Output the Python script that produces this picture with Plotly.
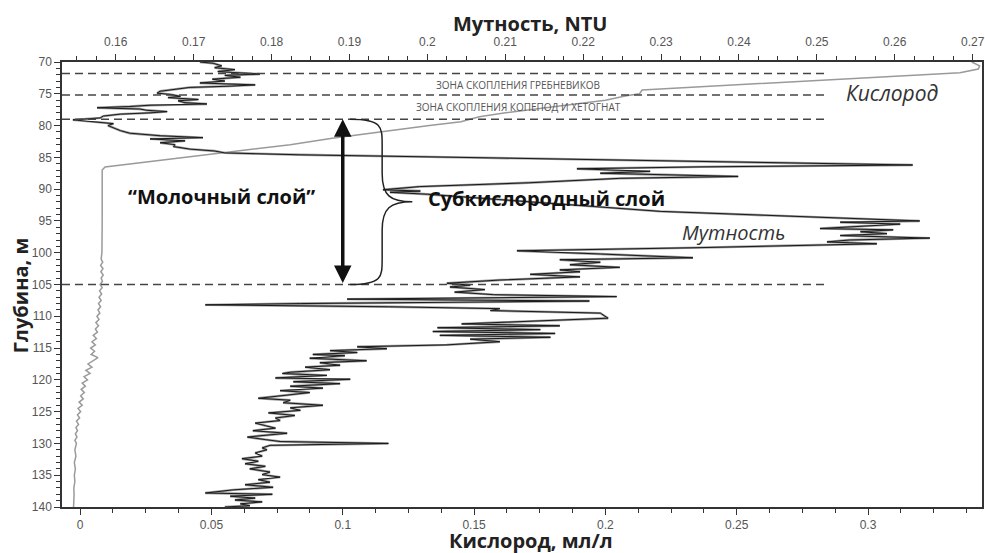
import plotly.graph_objects as go

# ---------------- data ----------------
# Turbidity profile (top axis, NTU) vs depth (m)
turb_depth = [70.0, 70.2, 70.6, 70.9, 71.2, 71.5, 71.9, 72.1, 72.4, 72.7, 73.0, 73.3, 73.6, 73.8,
              74.0, 74.3, 74.6, 74.9, 75.1, 75.4, 75.6, 75.9, 76.1, 76.4, 76.6, 76.8, 77.0, 77.2,
              77.4, 77.6, 77.8, 78.0, 78.2, 78.5, 78.8, 79.1, 79.4, 79.7, 80.0, 80.4, 80.8, 81.2,
              81.6, 81.9, 82.1, 82.4, 82.7, 83.0, 83.3, 83.7, 84.0, 84.3, 84.6, 85.0, 85.5, 86.2,
              86.5, 86.8, 87.2, 87.5, 88.0, 88.3, 89.0, 89.6, 90.1, 90.3, 90.5, 90.8, 92.0, 93.5,
              95.0, 95.2, 95.5, 95.9, 96.2, 96.4, 96.7, 97.0, 97.3, 97.7, 98.0, 98.3, 98.6, 99.2,
              99.7, 100.2, 100.8, 101.1, 101.5, 101.9, 102.3, 102.7, 103.0, 103.4, 103.8, 104.3,
              104.8, 105.1, 105.4, 105.8, 106.2, 106.6, 106.9, 107.3, 107.6, 108.0, 108.2, 108.5,
              108.8, 109.1, 109.5, 110.3, 110.8, 111.2, 111.5, 111.8, 112.1, 112.4, 112.7, 113.0,
              113.3, 113.6, 114.0, 114.5, 114.8, 115.1, 115.4, 115.7, 116.0, 116.2, 116.6, 117.0,
              117.3, 117.7, 118.0, 118.4, 118.8, 119.0, 119.3, 119.7, 119.9, 120.3, 120.6, 121.0,
              121.3, 121.7, 122.0, 122.4, 122.9, 123.2, 123.6, 124.0, 124.4, 124.8, 125.2, 125.6,
              126.0, 126.4, 126.8, 127.2, 127.6, 128.0, 128.4, 128.8, 129.0, 129.4, 129.7, 130.0,
              130.3, 130.7, 131.0, 131.5, 132.0, 132.4, 132.8, 133.2, 133.6, 134.0, 134.5, 134.9,
              135.3, 135.7, 136.1, 136.5, 136.9, 137.3, 137.8, 138.0, 138.3, 138.6, 138.9, 139.2,
              139.5, 139.8, 140.0]
turbidity = [0.1708, 0.1725, 0.1736, 0.1727, 0.1753, 0.1731, 0.1785, 0.1740, 0.1760, 0.1724, 0.1740, 0.1708, 0.1779, 0.1747,
             0.1695, 0.1676, 0.1657, 0.1653, 0.1670, 0.1683, 0.1667, 0.1706, 0.1680, 0.1689, 0.1717, 0.1644, 0.1618, 0.1576,
             0.1631, 0.1640, 0.1666, 0.1644, 0.1606, 0.1584, 0.1580, 0.1545, 0.1571, 0.1597, 0.1590, 0.1599, 0.1606, 0.1618,
             0.1657, 0.1712, 0.1644, 0.1689, 0.1657, 0.1676, 0.1674, 0.1695, 0.1727, 0.1740, 0.1836, 0.2042, 0.2299, 0.2623,
             0.2350, 0.2192, 0.2286, 0.2222, 0.2399, 0.2247, 0.2130, 0.1990, 0.1943, 0.1991, 0.1952, 0.2000, 0.2132, 0.2299,
             0.2632, 0.2530, 0.2607, 0.2547, 0.2504, 0.2598, 0.2556, 0.2590, 0.2530, 0.2645, 0.2542, 0.2513, 0.2577, 0.2350,
             0.2115, 0.2222, 0.2341, 0.2170, 0.2222, 0.2183, 0.2247, 0.2170, 0.2196, 0.2132, 0.2196, 0.2093,
             0.2025, 0.2055, 0.2029, 0.2074, 0.2035, 0.2085, 0.2243, 0.1897, 0.2208, 0.1837, 0.1715, 0.1950,
             0.2093, 0.2081, 0.2222, 0.2232, 0.2132, 0.2044, 0.2170, 0.2013, 0.2145, 0.2007, 0.2164, 0.2016,
             0.2158, 0.2055, 0.2093, 0.2025, 0.1910, 0.1948, 0.1875, 0.1910, 0.1853, 0.1894, 0.1849, 0.1922,
             0.1862, 0.1888, 0.1843, 0.1875, 0.1824, 0.1814, 0.1871, 0.1805, 0.1901, 0.1828, 0.1888, 0.1824,
             0.1866, 0.1811, 0.1849, 0.1817, 0.1783, 0.1824, 0.1815, 0.1866, 0.1824, 0.1837, 0.1796, 0.1830,
             0.1805, 0.1811, 0.1779, 0.1792, 0.1805, 0.1776, 0.1820, 0.1785, 0.1769, 0.1792, 0.1811, 0.1950,
             0.1798, 0.1788, 0.1794, 0.1779, 0.1788, 0.1762, 0.1783, 0.1766, 0.1792, 0.1772, 0.1798, 0.1788,
             0.1811, 0.1783, 0.1798, 0.1766, 0.1802, 0.1751, 0.1715, 0.1801, 0.1747, 0.1779, 0.1753, 0.1788,
             0.1760, 0.1772, 0.1740]

# Oxygen profile (bottom axis, ml/l) vs depth (m)
oxy_depth = [70.0, 70.6, 71.1, 71.7, 72.0, 72.5, 73.0, 73.5, 74.0, 74.4, 75.0, 75.3, 76.0, 76.5,
             77.0, 77.5, 78.0, 78.6, 79.4, 80.0, 81.0, 82.0, 83.0, 84.0, 85.0, 86.0, 86.5, 87.0,
             90.0, 95.0, 100.0, 100.5, 101.0, 101.5, 102.0, 102.5, 103.0, 103.5, 104.0, 104.5,
             105.0, 105.5, 106.0, 106.5, 107.0, 107.5, 108.0, 108.5, 109.0, 109.5, 110.0, 110.5,
             111.0, 111.5, 112.0, 112.5, 113.0, 113.5, 114.0, 114.5, 115.0, 115.5, 116.0, 116.5,
             117.0, 117.5, 118.0, 118.5, 119.0, 119.5, 120.0, 120.5, 121.0, 121.5, 122.0, 122.5,
             123.0, 123.5, 124.0, 124.5, 125.0, 125.5, 126.0, 126.5, 127.0, 127.5, 128.0, 128.5,
             129.0, 129.5, 130.0, 131.0, 132.0, 133.0, 134.0, 135.0, 136.0, 137.0, 138.0, 139.0, 140.0]
oxygen = [0.3395, 0.3425, 0.3420, 0.335, 0.321, 0.299, 0.277, 0.254, 0.232, 0.214, 0.213, 0.208, 0.200, 0.190,
          0.180, 0.170, 0.162, 0.152, 0.145, 0.133, 0.114, 0.096, 0.080, 0.060, 0.040, 0.020, 0.0095, 0.0084,
          0.0083, 0.0084, 0.0083, 0.0082, 0.0080, 0.0086, 0.0078, 0.0087, 0.0079, 0.0088, 0.0080, 0.0085,
          0.0076, 0.0084, 0.0074, 0.0082, 0.0072, 0.0080, 0.0070, 0.0078, 0.0068, 0.0075, 0.0064, 0.0072,
          0.0060, 0.0070, 0.0058, 0.0066, 0.0050, 0.0062, 0.0045, 0.0058, 0.0040, 0.0055, 0.0042, 0.0068,
          0.0048, 0.0030, 0.0045, 0.0022, 0.0038, 0.0015, 0.0028, 0.0008, 0.0020, 0.0004, 0.0016, 0.0002,
          0.0012, -0.0004, 0.0008, -0.0008, 0.0002, -0.0010, -0.0002, -0.0014, -0.0006, -0.0016, -0.0010, -0.0018,
          -0.0012, -0.0020, -0.0014, -0.0020, -0.0016, -0.0022, -0.0018, -0.0022, -0.0020, -0.0024, -0.0023, -0.0025, -0.0025]

depth_ticks = [70, 75, 80, 85, 90, 95, 100, 105, 110, 115, 120, 125, 130, 135, 140]
depth_labels = [str(v) for v in depth_ticks]
oxy_ticks = [0, 0.05, 0.1, 0.15, 0.2, 0.25, 0.3]
oxy_labels = ["0", "0.05", "0.1", "0.15", "0.2", "0.25", "0.3"]
turb_ticks = [0.16, 0.17, 0.18, 0.19, 0.2, 0.21, 0.22, 0.23, 0.24, 0.25, 0.26, 0.27]
turb_labels = ["0.16", "0.17", "0.18", "0.19", "0.2", "0.21", "0.22", "0.23", "0.24", "0.25", "0.26", "0.27"]

zone_depths = [71.8, 75.2, 79.0, 105.0]
zone_labels = ["ЗОНА СКОПЛЕНИЯ ГРЕБНЕВИКОВ", "ЗОНА СКОПЛЕНИЯ КОПЕПОД И ХЕТОГНАТ"]
zone_label_depths = [73.6, 77.1]

# ---------------- figure ----------------
oxy_range = [-0.0069, 0.3434]
turb_range = [0.1531, 0.2712]
dash_end = 0.2847

fig = go.Figure()
fig.add_trace(go.Scatter(x=oxygen, y=oxy_depth, xaxis="x", yaxis="y", mode="lines",
                         line=dict(color="#9a9a9a", width=1.5), showlegend=False))
fig.add_trace(go.Scatter(x=turbidity, y=turb_depth, xaxis="x2", yaxis="y", mode="lines",
                         line=dict(color="#9a9a9a", width=2.4), showlegend=False))
fig.add_trace(go.Scatter(x=turbidity, y=turb_depth, xaxis="x2", yaxis="y", mode="lines",
                         line=dict(color="#1a1a1a", width=1.0), showlegend=False))

tickfont = dict(family="Liberation Sans, Arial", size=12, color="#555555")
axis_common = dict(showgrid=False, zeroline=False, showline=True, linecolor="#333333",
                   linewidth=1.5, ticks="outside", ticklen=6, tickcolor="#333333",
                   tickwidth=1.2, tickfont=tickfont, automargin=False)

fig.update_layout(
    width=985, height=553,
    margin=dict(l=62, r=3, t=62, b=46),
    paper_bgcolor="white", plot_bgcolor="white",
    xaxis=dict(range=oxy_range, tickmode="array", tickvals=oxy_ticks, ticktext=oxy_labels,
               minor=dict(dtick=0.0125, tick0=0, ticks="outside", ticklen=4, tickcolor="#333333"),
               **axis_common),
    xaxis2=dict(range=turb_range, overlaying="x", side="top", anchor="y",
                tickmode="array", tickvals=turb_ticks, ticktext=turb_labels, ticklabelstandoff=3,
                minor=dict(dtick=0.0025, tick0=0.15, ticks="outside", ticklen=4, tickcolor="#333333"),
                **axis_common),
    yaxis=dict(range=[140, 70], tickmode="array", tickvals=depth_ticks, ticktext=depth_labels,
               mirror=True,
               minor=dict(dtick=1, tick0=70, ticks="outside", ticklen=4, tickcolor="#333333"),
               **axis_common),
)

# dashed zone lines
for d in zone_depths:
    fig.add_shape(type="line", xref="x", yref="y", x0=oxy_range[0], x1=dash_end, y0=d, y1=d,
                  line=dict(color="#444444", width=1.5, dash="8px,5px"))

# curly brace spanning the sub-oxygen layer
b_top, b_bot = zone_depths[2], zone_depths[3]
b_mid = (b_top + b_bot) / 2
bx0, bx1, btip = 0.1028, 0.1150, 0.1265
brace = (f"M {bx0},{b_top} C {bx1},{b_top} {bx1},{b_top+1.2} {bx1},{b_top+4} "
         f"L {bx1},{b_mid-4.5} C {bx1},{b_mid-1} {bx1+0.003},{b_mid} {btip},{b_mid} "
         f"C {bx1+0.003},{b_mid} {bx1},{b_mid+1} {bx1},{b_mid+4.5} "
         f"L {bx1},{b_bot-4} C {bx1},{b_bot-1.2} {bx1},{b_bot} {bx0},{b_bot}")
fig.add_shape(type="path", xref="x", yref="y", path=brace, line=dict(color="#222222", width=1.5))

# double-headed arrow ("milky layer")
fig.add_annotation(x=0.1, y=b_top, ax=0.1, ay=b_bot, xref="x", yref="y", axref="x", ayref="y",
                   text="", showarrow=True, arrowhead=2, arrowsize=1, arrowwidth=3.5,
                   arrowside="end+start", arrowcolor="#111111")

# texts
ctr = dict(xanchor="center", yanchor="middle", showarrow=False)
for lab, d in zip(zone_labels, zone_label_depths):
    fig.add_annotation(x=0.1669, y=d, xref="x", yref="y", text=lab,
                       font=dict(family="Open Sans", size=10, color="#555555"), **ctr)

fig.add_annotation(x=0.3093, y=74.9, xref="x", yref="y", text="Кислород",
                   font=dict(family="Open Sans", size=21, color="#333333", style="italic"), **ctr)
fig.add_annotation(x=0.2486, y=96.8, xref="x", yref="y", text="Мутность",
                   font=dict(family="Open Sans", size=20, color="#333333", style="italic"), **ctr)
fig.add_annotation(x=0.0539, y=91.2, xref="x", yref="y", text="“Молочный слой”",
                   font=dict(family="Open Sans", size=20, color="#111111", weight="bold"), **ctr)
fig.add_annotation(x=0.1774, y=91.4, xref="x", yref="y", text="Субкислородный слой",
                   font=dict(family="Open Sans", size=20, color="#111111", weight="bold"), **ctr)

title_font = dict(family="Open Sans", size=20, color="#222222", weight="bold")
fig.add_annotation(x=0.509, y=1.0876, xref="paper", yref="paper", text="Мутность, NTU",
                   font=title_font, **ctr)
fig.add_annotation(x=0.5098, y=-0.0742, xref="paper", yref="paper", text="Кислород, мл/л",
                   font=title_font, **ctr)
fig.add_annotation(x=-0.0457, y=0.476, xref="paper", yref="paper", text="Глубина, м",
                   textangle=-90, font=title_font, **ctr)

fig.write_html("out.html", config={"displayModeBar": False},
               post_script="document.body.style.margin='0';document.body.style.padding='0';")
